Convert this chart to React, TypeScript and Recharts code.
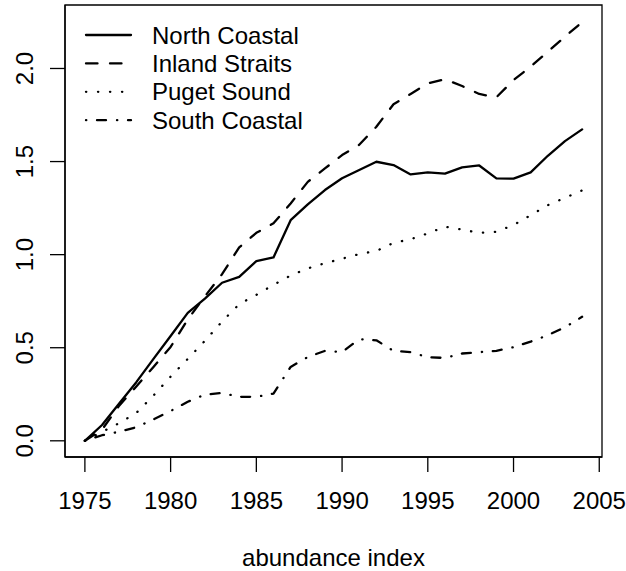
import React from 'react';
import { LineChart, Line, XAxis, YAxis, Legend, ReferenceArea } from 'recharts';

const years = [
  1975, 1976, 1977, 1978, 1979, 1980, 1981, 1982, 1983, 1984,
  1985, 1986, 1987, 1988, 1989, 1990, 1991, 1992, 1993, 1994,
  1995, 1996, 1997, 1998, 1999, 2000, 2001, 2002, 2003, 2004,
];
const northCoastal = [
  0, 0.085, 0.2, 0.315, 0.44, 0.563, 0.687, 0.764, 0.849, 0.881,
  0.965, 0.985, 1.185, 1.27, 1.347, 1.41, 1.455, 1.499, 1.481, 1.431,
  1.442, 1.435, 1.469, 1.479, 1.41, 1.408, 1.442, 1.531, 1.61, 1.673,
];
const inlandStraits = [
  0, 0.06, 0.189, 0.292, 0.397, 0.504, 0.652, 0.776, 0.895, 1.039,
  1.117, 1.168, 1.275, 1.391, 1.463, 1.535, 1.59, 1.687, 1.808, 1.863,
  1.92, 1.942, 1.906, 1.863, 1.845, 1.938, 2.01, 2.09, 2.171, 2.249,
];
const pugetSound = [
  0, 0.048, 0.095, 0.15, 0.243, 0.345, 0.44, 0.537, 0.641, 0.734,
  0.784, 0.838, 0.888, 0.926, 0.954, 0.978, 1.003, 1.02, 1.063, 1.083,
  1.114, 1.15, 1.135, 1.117, 1.123, 1.159, 1.212, 1.266, 1.305, 1.345,
];
const southCoastal = [
  0, 0.03, 0.049, 0.073, 0.115, 0.16, 0.21, 0.248, 0.257, 0.236,
  0.236, 0.254, 0.397, 0.45, 0.483, 0.477, 0.546, 0.54, 0.483, 0.476,
  0.449, 0.445, 0.469, 0.476, 0.483, 0.503, 0.533, 0.567, 0.61, 0.666,
];
const seriesNames = ['North Coastal', 'Inland Straits', 'Puget Sound', 'South Coastal'];
const xTicks = [1975, 1980, 1985, 1990, 1995, 2000, 2005];
const yTicks = [0, 0.5, 1, 1.5, 2];
const xLabel = 'abundance index';

const data = years.map((year, i) => ({
  year,
  northCoastal: northCoastal[i],
  inlandStraits: inlandStraits[i],
  pugetSound: pugetSound[i],
  southCoastal: southCoastal[i],
}));

const FONT = '"Liberation Sans", Arial, Helvetica, sans-serif';
const LW = 2.3;

const SERIES = [
  { key: 'northCoastal', name: seriesNames[0], dash: undefined as string | undefined },
  { key: 'inlandStraits', name: seriesNames[1], dash: '11.5 12.5' },
  { key: 'pugetSound', name: seriesNames[2], dash: '0.3 11.7' },
  { key: 'southCoastal', name: seriesNames[3], dash: '0.3 10.7 9 11' },
];

const xDomain = [1973.84, 2005.16];
const yDomain = [-0.087, 2.341];

const YTick = (props: any) => {
  const { x, y, payload } = props;
  const bx = x - 17;
  return (
    <text
      x={bx}
      y={y}
      transform={`rotate(-90, ${bx}, ${y})`}
      textAnchor="middle"
      fontSize={24}
      fontFamily={FONT}
      fill="#000"
    >
      {Number(payload.value).toFixed(1)}
    </text>
  );
};

const XLabel = (props: any) => {
  const vb = props.viewBox || { x: 65, y: 457, width: 537, height: 114 };
  return (
    <text
      x={vb.x + vb.width / 2}
      y={vb.y + 109}
      textAnchor="middle"
      fontSize={24}
      fontFamily={FONT}
      fill="#000"
    >
      {xLabel}
    </text>
  );
};

const LegendBox = () => (
  <svg width={320} height={140} style={{ display: 'block' }}>
    {SERIES.map((s, i) => {
      const cy = 35 + 28.4 * i;
      return (
        <g key={s.key}>
          <line
            x1={86}
            x2={131}
            y1={cy}
            y2={cy}
            stroke="#000"
            strokeWidth={LW}
            strokeDasharray={s.dash}
            strokeLinecap="round"
          />
          <text x={152} y={cy + 8.5} fontSize={24} fontFamily={FONT} fill="#000">
            {s.name}
          </text>
        </g>
      );
    })}
  </svg>
);

export default function App() {
  return (
    <div style={{ position: 'absolute', left: 0, top: 0, background: '#fff' }}>
      <LineChart
        width={626}
        height={571}
        data={data}
        margin={{ top: 5, right: 24, bottom: 0, left: 0 }}
      >
        <XAxis
          dataKey="year"
          type="number"
          domain={xDomain}
          allowDataOverflow
          ticks={xTicks}
          interval={0}
          height={114}
          tickSize={15}
          tickMargin={20}
          tick={{ fontSize: 24, fill: '#000', fontFamily: FONT }}
          tickLine={{ stroke: '#000', strokeWidth: 1.3 }}
          axisLine={{ stroke: '#000', strokeWidth: 1.3 }}
          label={XLabel}
        />
        <YAxis
          type="number"
          domain={yDomain}
          allowDataOverflow
          ticks={yTicks}
          interval={0}
          width={65}
          tickSize={15}
          tickMargin={0}
          tick={<YTick />}
          tickLine={{ stroke: '#000', strokeWidth: 1.3 }}
          axisLine={{ stroke: '#000', strokeWidth: 1.3 }}
        />
        <ReferenceArea
          x1={xDomain[0]}
          x2={xDomain[1]}
          y1={yDomain[0]}
          y2={yDomain[1]}
          fill="none"
          fillOpacity={0}
          stroke="#000"
          strokeWidth={1.3}
          ifOverflow="visible"
        />
        <Legend
          layout="vertical"
          align="center"
          verticalAlign="middle"
          wrapperStyle={{ left: 0, top: 0, width: 320, height: 140 }}
          content={() => <LegendBox />}
        />
        {SERIES.map((s) => (
          <Line
            key={s.key}
            dataKey={s.key}
            name={s.name}
            type="linear"
            stroke="#000"
            strokeWidth={LW}
            strokeDasharray={s.dash}
            strokeLinecap="round"
            strokeLinejoin="round"
            dot={false}
            activeDot={false}
            isAnimationActive={false}
          />
        ))}
      </LineChart>
    </div>
  );
}
